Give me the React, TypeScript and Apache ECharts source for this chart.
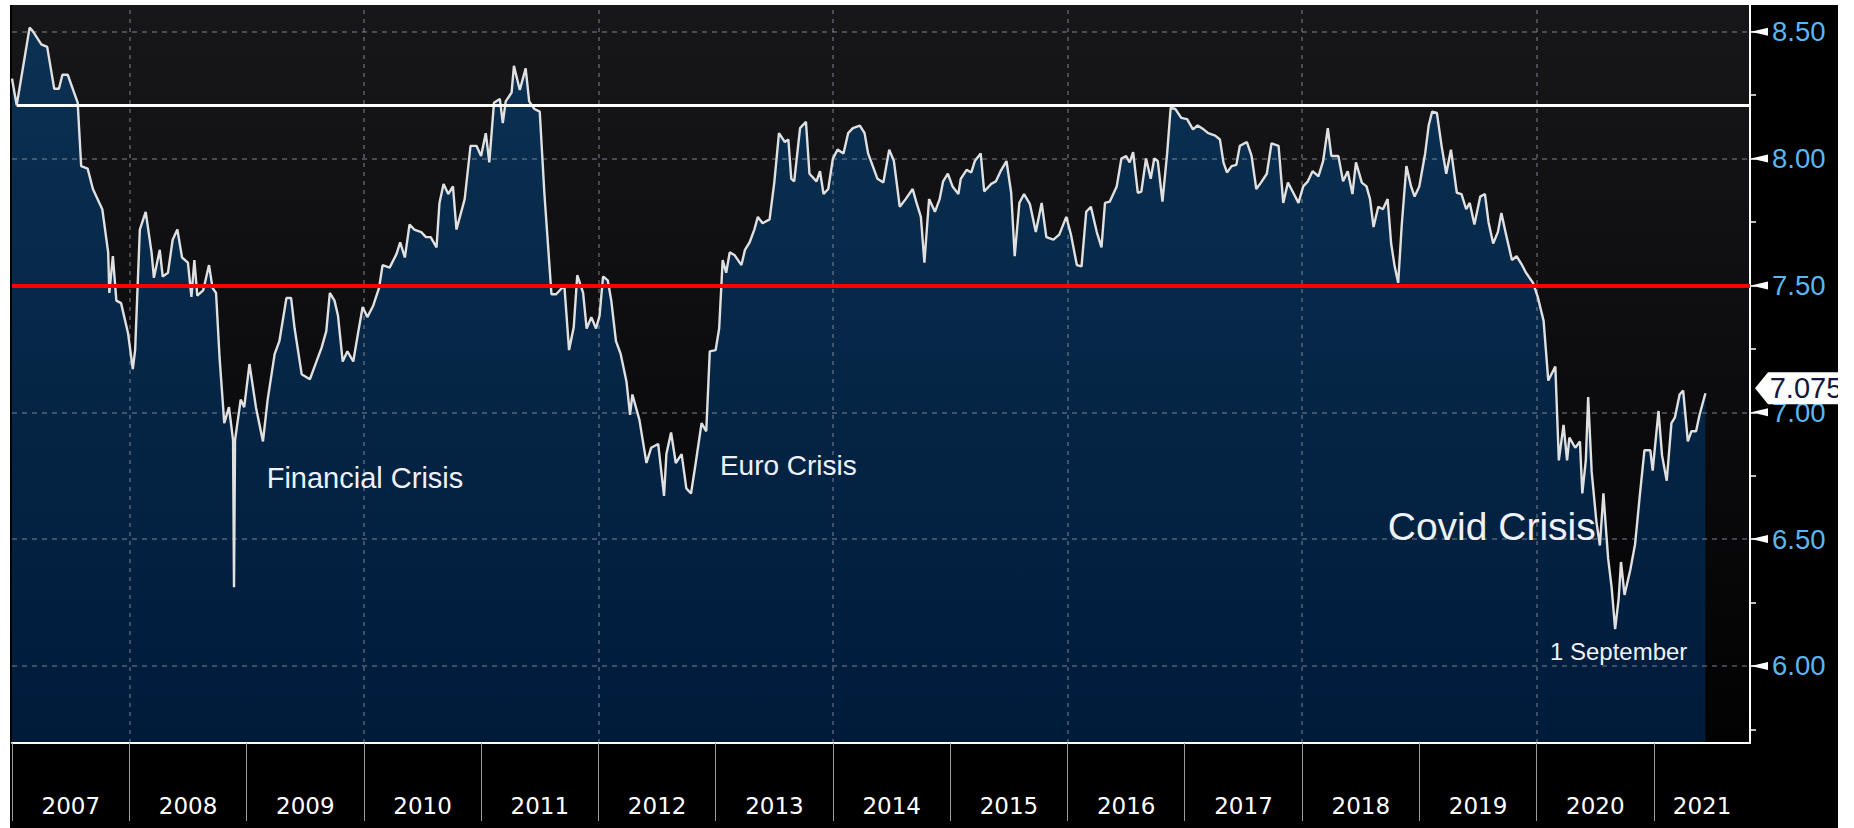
import React, { useEffect, useRef } from 'react';
import * as echarts from 'echarts';

// Time in decimal years, value of the series
const dates: number[] = [
  2007.0, 2007.04, 2007.105, 2007.15, 2007.18, 2007.25, 2007.3, 2007.36, 2007.4, 2007.43, 2007.475, 2007.56,
  2007.59, 2007.645, 2007.69, 2007.745, 2007.77, 2007.82, 2007.83, 2007.86, 2007.89, 2007.93, 2007.99,
  2008.03, 2008.05, 2008.09, 2008.14, 2008.19, 2008.21, 2008.26, 2008.285, 2008.33, 2008.37, 2008.41,
  2008.45, 2008.5, 2008.53, 2008.555, 2008.58, 2008.63, 2008.68, 2008.71, 2008.74, 2008.77, 2008.81,
  2008.85, 2008.885, 2008.893, 2008.902, 2008.95, 2008.98,
  2009.025, 2009.08, 2009.14, 2009.18, 2009.24, 2009.28, 2009.34, 2009.38, 2009.41, 2009.47, 2009.54,
  2009.58, 2009.64, 2009.68, 2009.71, 2009.75, 2009.78, 2009.82, 2009.86, 2009.91, 2009.95, 2009.99,
  2010.03, 2010.08, 2010.13, 2010.16, 2010.22, 2010.28, 2010.31, 2010.35, 2010.39, 2010.43, 2010.49,
  2010.53, 2010.57, 2010.62, 2010.645, 2010.68, 2010.72, 2010.76, 2010.79, 2010.86, 2010.91, 2010.96,
  2011.0, 2011.04, 2011.07, 2011.11, 2011.16, 2011.185, 2011.21, 2011.26, 2011.28, 2011.33, 2011.38,
  2011.41, 2011.455, 2011.5, 2011.54, 2011.6, 2011.64, 2011.71, 2011.75, 2011.79, 2011.82, 2011.87,
  2011.9, 2011.94, 2011.98,
  2012.01, 2012.04, 2012.08, 2012.11, 2012.15, 2012.19, 2012.24, 2012.27, 2012.29, 2012.35, 2012.41,
  2012.45, 2012.51, 2012.56, 2012.58, 2012.62, 2012.66, 2012.71, 2012.75, 2012.79, 2012.83, 2012.88,
  2012.92, 2012.95,
  2013.0, 2013.03, 2013.06, 2013.09, 2013.12, 2013.16, 2013.22, 2013.25, 2013.29, 2013.33, 2013.36,
  2013.4, 2013.46, 2013.5, 2013.54, 2013.59, 2013.62, 2013.645, 2013.67, 2013.72, 2013.77, 2013.8,
  2013.86, 2013.89, 2013.92, 2013.96,
  2014.0, 2014.04, 2014.09, 2014.13, 2014.17, 2014.23, 2014.27, 2014.3, 2014.34, 2014.38, 2014.43,
  2014.48, 2014.52, 2014.57, 2014.62, 2014.68, 2014.71, 2014.75, 2014.78, 2014.82, 2014.87, 2014.91,
  2014.94, 2014.98,
  2015.02, 2015.07, 2015.09, 2015.14, 2015.18, 2015.21, 2015.26, 2015.29, 2015.35, 2015.39, 2015.43,
  2015.48, 2015.52, 2015.55, 2015.59, 2015.63, 2015.68, 2015.73, 2015.78, 2015.82, 2015.88, 2015.93,
  2015.99,
  2016.03, 2016.08, 2016.12, 2016.16, 2016.2, 2016.25, 2016.29, 2016.32, 2016.36, 2016.42, 2016.46,
  2016.5, 2016.53, 2016.56, 2016.6, 2016.63, 2016.67, 2016.71, 2016.74, 2016.77, 2016.81, 2016.85,
  2016.88, 2016.92, 2016.97,
  2017.02, 2017.07, 2017.11, 2017.16, 2017.2, 2017.26, 2017.3, 2017.33, 2017.36, 2017.4, 2017.44,
  2017.47, 2017.53, 2017.57, 2017.61, 2017.65, 2017.7, 2017.74, 2017.8, 2017.84, 2017.88, 2017.92,
  2017.97,
  2018.01, 2018.05, 2018.09, 2018.14, 2018.18, 2018.22, 2018.25, 2018.31, 2018.35, 2018.39, 2018.43,
  2018.46, 2018.51, 2018.55, 2018.58, 2018.61, 2018.65, 2018.69, 2018.73, 2018.76, 2018.79, 2018.82,
  2018.85, 2018.89, 2018.93, 2018.96,
  2019.0, 2019.05, 2019.08, 2019.11, 2019.15, 2019.19, 2019.23, 2019.27, 2019.32, 2019.36, 2019.4,
  2019.43, 2019.47, 2019.52, 2019.56, 2019.59, 2019.63, 2019.67, 2019.7, 2019.74, 2019.79, 2019.83,
  2019.87, 2019.91, 2019.97,
  2020.01, 2020.06, 2020.1, 2020.16, 2020.19, 2020.23, 2020.26, 2020.28, 2020.33, 2020.37, 2020.39,
  2020.42, 2020.44, 2020.47, 2020.51, 2020.54, 2020.57, 2020.61, 2020.64, 2020.67, 2020.7, 2020.72,
  2020.75, 2020.8, 2020.84, 2020.88, 2020.92, 2020.97, 2020.99,
  2021.04, 2021.07, 2021.11, 2021.15, 2021.18, 2021.22, 2021.25, 2021.29, 2021.32, 2021.36, 2021.39,
  2021.44,
];

const rates: number[] = [
  8.315, 8.21, 8.39, 8.516, 8.5, 8.45, 8.44, 8.275, 8.275, 8.33, 8.33, 8.22,
  7.97, 7.96, 7.88, 7.825, 7.8, 7.63, 7.47, 7.615, 7.44, 7.43, 7.31,
  7.17, 7.245, 7.72, 7.79, 7.63, 7.53, 7.64, 7.535, 7.55, 7.68, 7.72,
  7.61, 7.59, 7.455, 7.6, 7.46, 7.48, 7.58, 7.49, 7.47, 7.215, 6.957,
  7.02, 6.89, 6.31, 6.89, 7.05, 7.02,
  7.19, 7.02, 6.885, 7.05, 7.23, 7.28, 7.45, 7.45, 7.33, 7.15, 7.13,
  7.18, 7.255, 7.32, 7.47, 7.44, 7.38, 7.2, 7.24, 7.2, 7.31, 7.415,
  7.375, 7.42, 7.49, 7.58, 7.57, 7.625, 7.67, 7.61, 7.74, 7.72, 7.71,
  7.69, 7.69, 7.65, 7.825, 7.9, 7.86, 7.89, 7.72, 7.84, 8.05, 8.05,
  8.01, 8.1, 7.985, 8.22, 8.235, 8.14, 8.225, 8.26, 8.365, 8.27, 8.355,
  8.225, 8.195, 8.185, 7.86, 7.465, 7.465, 7.5, 7.245, 7.335, 7.54, 7.47,
  7.33, 7.375, 7.33,
  7.38, 7.535, 7.52, 7.44, 7.28, 7.23, 7.12, 6.99, 7.07, 6.97, 6.8,
  6.86, 6.875, 6.67, 6.835, 6.92, 6.8, 6.835, 6.7, 6.68, 6.8, 6.957,
  6.925, 7.24,
  7.245, 7.33, 7.6, 7.55, 7.63, 7.62, 7.58, 7.64, 7.67, 7.72, 7.77,
  7.745, 7.76, 7.905, 8.1, 8.065, 8.075, 7.92, 7.91, 8.12, 8.145, 7.94,
  7.91, 7.95, 7.86, 7.88,
  8.0, 8.035, 8.02, 8.1, 8.12, 8.13, 8.1, 8.02, 7.97, 7.92, 7.905,
  8.035, 7.99, 7.81, 7.84, 7.88, 7.83, 7.77, 7.59, 7.84, 7.79, 7.84,
  7.91, 7.94,
  7.89, 7.86, 7.92, 7.955, 7.945, 7.99, 8.02, 7.87, 7.9, 7.91, 7.95,
  7.99, 7.865, 7.615, 7.825, 7.86, 7.82, 7.71, 7.825, 7.69, 7.68, 7.7,
  7.77,
  7.7, 7.58, 7.575, 7.79, 7.81, 7.71, 7.65, 7.825, 7.83, 7.89, 8.0,
  8.01, 7.985, 8.025, 7.865, 7.87, 8.0, 7.92, 8.0, 7.99, 7.83, 8.02,
  8.2, 8.195, 8.16,
  8.155, 8.115, 8.13, 8.115, 8.1, 8.09, 8.075, 7.985, 7.945, 7.97, 7.975,
  8.05, 8.065, 8.01, 7.88, 7.905, 7.94, 8.06, 8.05, 7.825, 7.905, 7.87,
  7.825,
  7.89, 7.91, 7.95, 7.93, 7.99, 8.12, 8.01, 8.01, 7.91, 7.95, 7.86,
  7.985, 7.905, 7.89, 7.84, 7.73, 7.81, 7.8, 7.84, 7.665, 7.575, 7.51,
  7.735, 7.97, 7.89, 7.85,
  7.89, 8.02, 8.13, 8.185, 8.18, 8.05, 7.94, 8.035, 7.865, 7.86, 7.8,
  7.825, 7.74, 7.85, 7.86, 7.75, 7.665, 7.71, 7.785, 7.7, 7.6, 7.615,
  7.585, 7.55, 7.51,
  7.455, 7.36, 7.125, 7.18, 6.81, 6.95, 6.81, 6.9, 6.86, 6.885, 6.68,
  6.81, 7.06, 6.765, 6.57, 6.475, 6.68, 6.425, 6.31, 6.145, 6.265, 6.41,
  6.28, 6.38, 6.48, 6.67, 6.85, 6.85, 6.77,
  7.005, 6.83, 6.73, 6.957, 6.98, 7.07, 7.085, 6.885, 6.925, 6.925, 6.99,
  7.075,
];

const yearTicks: number[] = [2007, 2008, 2009, 2010, 2011, 2012, 2013, 2014, 2015, 2016, 2017, 2018, 2019, 2020, 2021];
const gridYears: number[] = [2008, 2010, 2012, 2014, 2016, 2018, 2020];
const yLabelValues: number[] = [6.0, 6.5, 7.0, 7.5, 8.0, 8.5];
const yTickValues: number[] = [5.75, 6.0, 6.25, 6.5, 6.75, 7.0, 7.25, 7.5, 7.75, 8.0, 8.25, 8.5];
const supportLevel = 7.5;
const resistanceLevel = 8.21;
const resistanceStart = 2007.04;

const annotationTexts: string[] = ['Financial Crisis', 'Euro Crisis', 'Covid Crisis', '1 September'];
const annotationDates: number[] = [2010.01, 2013.62, 2019.618, 2020.7];
const annotationValues: number[] = [6.741, 6.789, 6.551, 6.057];
const annotationSizes: number[] = [29, 28, 39, 24];

const X_MIN = 2007;
const X_MAX = 2021.82;
const Y_MIN = 5.6965;
const Y_MAX = 8.605;

export default function App() {
  const ref = useRef<HTMLDivElement>(null);

  useEffect(() => {
    if (!ref.current) return;
    const chart = echarts.init(ref.current, undefined, { renderer: 'svg' });
    const points = dates.map((d, i) => [d, rates[i]]);
    const lastValue = rates[rates.length - 1];
    const lastYear = yearTicks[yearTicks.length - 1];
    const yearFont = { fontSize: 23, lineHeight: 24, fontFamily: 'DejaVu Sans', color: '#ffffff' };

    chart.setOption({
      animation: false,
      backgroundColor: '#000000',
      grid: {
        left: 2,
        right: 88,
        top: 0,
        bottom: 85,
        show: true,
        borderWidth: 0,
        containLabel: false,
        outerBoundsMode: 'none',
        backgroundColor: {
          type: 'linear', x: 0, y: 0, x2: 0, y2: 1,
          colorStops: [
            { offset: 0, color: '#17171a' },
            { offset: 1, color: '#020203' },
          ],
        },
      },
      xAxis: {
        type: 'value',
        min: X_MIN,
        max: X_MAX,
        interval: 1,
        z: 10,
        axisLine: { show: true, onZero: false, lineStyle: { color: '#ffffff', width: 2 } },
        axisTick: { show: true, customValues: yearTicks, length: 78, lineStyle: { color: '#9a9a9a', width: 1 } },
        axisLabel: {
          customValues: yearTicks,
          margin: 51,
          align: 'left',
          showMinLabel: true,
          showMaxLabel: true,
          hideOverlap: false,
          formatter: (v: number) => {
            if (Math.abs(v - Math.round(v)) > 1e-6) return '';
            const y = Math.round(v);
            return y === lastYear ? `{last|${y}}` : `{yr|${y}}`;
          },
          rich: {
            yr: { ...yearFont, padding: [0, 0, 0, 29.5] },
            last: { ...yearFont, padding: [0, 0, 0, 19] },
          },
        },
        splitLine: { show: false },
      },
      yAxis: {
        type: 'value',
        position: 'right',
        min: Y_MIN,
        max: Y_MAX,
        z: 0,
        axisLine: { show: true, lineStyle: { color: '#ffffff', width: 2 } },
        axisTick: { show: true, customValues: yTickValues, length: 6, lineStyle: { color: '#ffffff', width: 1.5 } },
        axisLabel: {
          customValues: yLabelValues,
          formatter: (v: number) => v.toFixed(2),
          margin: 22,
          color: '#5ab6f2',
          fontSize: 27.5,
          fontFamily: 'Liberation Sans',
        },
        splitLine: { show: false },
      },
      series: [
        {
          name: 'area',
          type: 'line',
          data: points,
          symbol: 'none',
          showSymbol: false,
          z: 1,
          silent: true,
          lineStyle: { width: 0 },
          areaStyle: {
            origin: 'start',
            opacity: 1,
            color: {
              type: 'linear', x: 0, y: 0, x2: 0, y2: 1,
              colorStops: [
                { offset: 0, color: '#0b3152' },
                { offset: 1, color: '#001a3a' },
              ],
            },
          },
          markLine: {
            silent: true,
            symbol: 'none',
            z: 2,
            label: { show: false },
            data: [
              ...gridYears.map((y) => ({ xAxis: y, lineStyle: { color: 'rgba(150,155,170,0.55)', width: 1.5, type: [4, 5] } })),
              ...yLabelValues.map((v) => ({ yAxis: v, lineStyle: { color: 'rgba(150,155,170,0.55)', width: 1.5, type: [5, 5] } })),
            ],
          },
        },
        {
          name: 'rate',
          type: 'line',
          data: points,
          symbol: 'none',
          showSymbol: false,
          z: 3,
          silent: true,
          lineStyle: { color: '#e0e0e0', width: 2.4 },
          markLine: {
            silent: true,
            symbol: 'none',
            z: 4,
            label: { show: false },
            data: [
              { yAxis: supportLevel, lineStyle: { color: '#ff0000', width: 4, type: 'solid' } },
              [
                { coord: [resistanceStart, resistanceLevel], lineStyle: { color: '#ffffff', width: 3, type: 'solid' } },
                { coord: [X_MAX, resistanceLevel] },
              ],
            ],
          },
          markPoint: {
            silent: true,
            z: 5,
            symbol: 'circle',
            symbolSize: 1,
            itemStyle: { color: 'rgba(0,0,0,0)' },
            data: annotationTexts.map((text, i) => ({
              coord: [annotationDates[i], annotationValues[i]],
              label: {
                show: true,
                position: 'inside',
                formatter: text,
                color: '#eef2f8',
                fontSize: annotationSizes[i],
                fontFamily: 'Liberation Sans',
              },
            })),
          },
        },
        {
          name: 'pointers',
          type: 'scatter',
          data: yLabelValues.map((v) => [X_MAX, v]),
          symbol: 'path://M0,4L17,0L17,8Z',
          symbolSize: [17, 8],
          symbolOffset: [9.5, 0],
          itemStyle: { color: '#ffffff', opacity: 1 },
          clip: false,
          silent: true,
          z: 6,
        },
        {
          name: 'lastTag',
          type: 'scatter',
          data: [[X_MAX, lastValue]],
          symbol: 'path://M0,16L13,0L110,0L110,32L13,32Z',
          symbolSize: [110, 32],
          symbolOffset: [60, -5],
          itemStyle: { color: '#ffffff', opacity: 1 },
          label: {
            show: true,
            position: 'inside',
            formatter: lastValue.toFixed(3),
            color: '#14163c',
            fontSize: 29,
            fontFamily: 'Liberation Sans',
            offset: [-4, 0],
          },
          clip: false,
          silent: true,
          z: 7,
        },
      ],
    });

    return () => chart.dispose();
  }, []);

  return (
    <div
      ref={ref}
      style={{ position: 'absolute', left: 10, top: 5, width: 1828, height: 823 }}
    />
  );
}
